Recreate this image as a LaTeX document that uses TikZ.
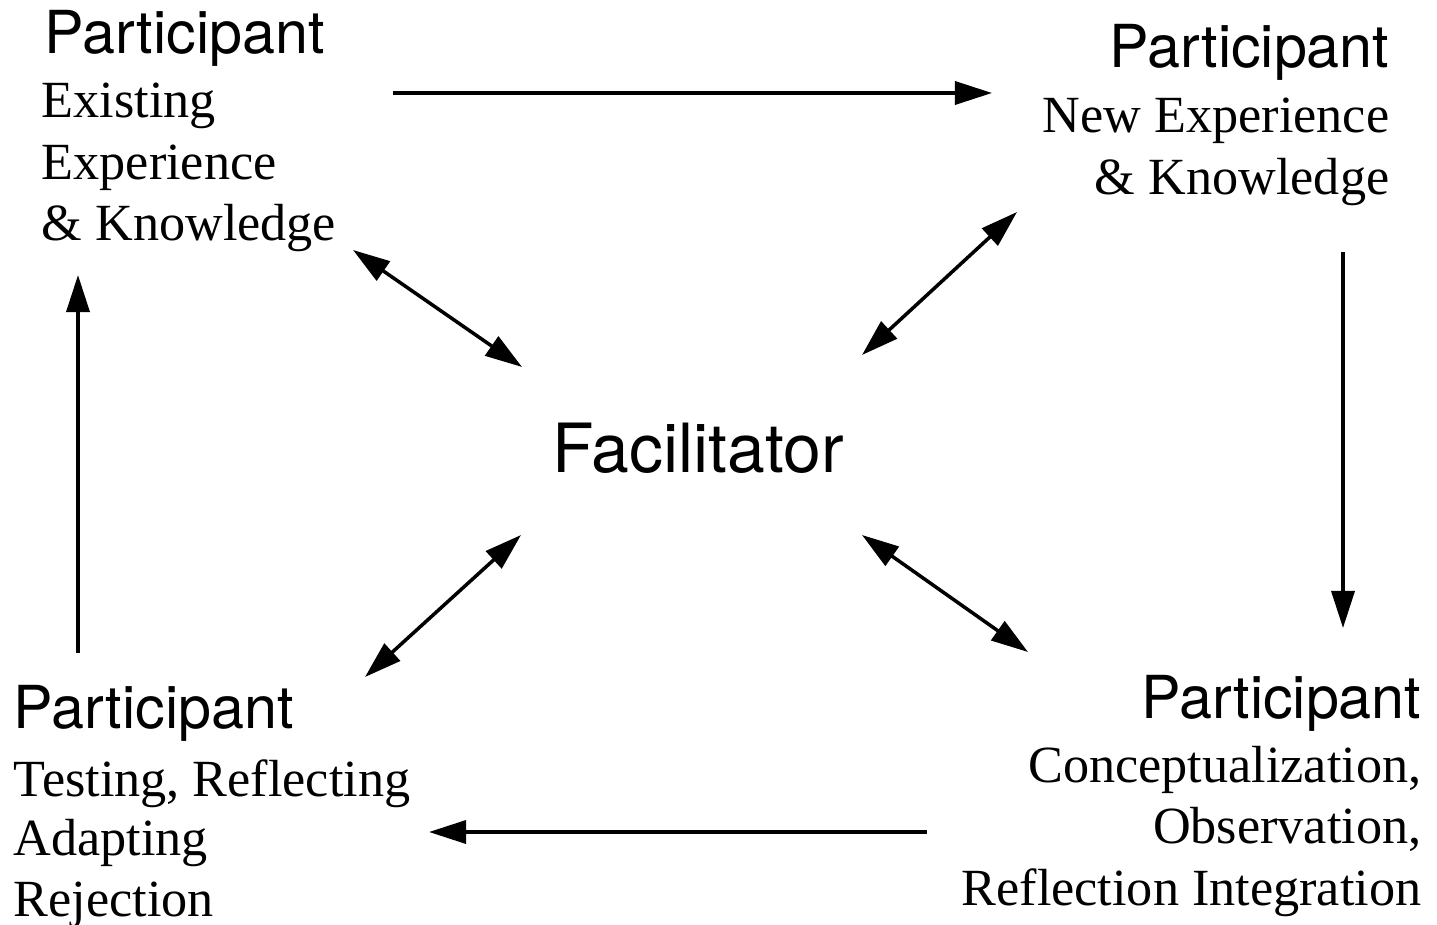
\documentclass[tikz,border=0pt]{standalone}
\usepackage{fontspec}
\setmainfont{Liberation Serif}
\setsansfont{TeX Gyre Heros}
\usetikzlibrary{arrows.meta}
\begin{document}
\begin{tikzpicture}[x=0.01cm,y=-0.01cm,
  head/.style={inner sep=0pt, font=\sffamily\fontsize{16.85}{20}\selectfont},
  line/.style={inner sep=0pt, font=\fontsize{14.85}{17.5}\selectfont},
  center/.style={inner sep=0pt, font=\sffamily\fontsize{19.3}{23}\selectfont},
  conn/.style={line width=1pt, -{Triangle[length=0.37cm,width=0.23cm]}},
  dconn/.style={line width=1pt, {Triangle[length=0.37cm,width=0.23cm]}-{Triangle[length=0.37cm,width=0.23cm]}}]
\useasboundingbox (0,0) rectangle (1437,925);
% top-left
\node[head, anchor=base west] (tlh) at (44,54) {Participant};
\node[line, anchor=base west] (tl1) at (41,118) {Existing};
\node[line, anchor=base west] (tl2) at (41,180) {Experience};
\node[line, anchor=base west] (tl3) at (41,241) {\& Knowledge};
% top-right
\node[head, anchor=base east] (trh) at (1390,68) {Participant};
\node[line, anchor=base east] (tr1) at (1390,133) {New Experience};
\node[line, anchor=base east] (tr2) at (1390,195) {\& Knowledge};
% bottom-left
\node[head, anchor=base west] (blh) at (13,728) {Participant};
\node[line, anchor=base west] (bl1) at (13,796) {Testing, Reflecting};
\node[line, anchor=base west] (bl2) at (13,855) {Adapting};
\node[line, anchor=base west] (bl3) at (13,916) {Rejection};
% bottom-right
\node[head, anchor=base east] (brh) at (1422,718) {Participant};
\node[line, anchor=base east] (br1) at (1422,782) {Conceptualization,};
\node[line, anchor=base east] (br2) at (1422,843) {Observation,};
\node[line, anchor=base east] (br3) at (1422,905) {Reflection Integration};
% center
\node[center, anchor=base west] (fac) at (552,472) {Facilitator};
% connector endpoints
\coordinate (a1) at (393,93);   \coordinate (a2) at (992,93);
\coordinate (b1) at (1343,252); \coordinate (b2) at (1343,628);
\coordinate (c1) at (927,832);  \coordinate (c2) at (429,832);
\coordinate (d1) at (78,653);   \coordinate (d2) at (78,275);
\coordinate (e1) at (353,250);  \coordinate (e2) at (522,367);
\coordinate (f1) at (1017,212); \coordinate (f2) at (862,355);
\coordinate (g1) at (521,535);  \coordinate (g2) at (365,677);
\coordinate (h1) at (862,535);  \coordinate (h2) at (1028,652);
\draw[conn] (a1) -- (a2);
\draw[conn] (b1) -- (b2);
\draw[conn] (c1) -- (c2);
\draw[conn] (d1) -- (d2);
\draw[dconn] (e1) -- (e2);
\draw[dconn] (f1) -- (f2);
\draw[dconn] (g1) -- (g2);
\draw[dconn] (h1) -- (h2);
\end{tikzpicture}
\end{document}
